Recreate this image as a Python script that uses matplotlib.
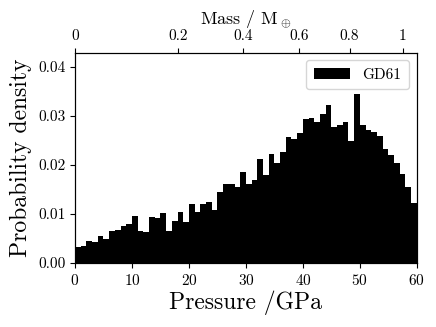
import matplotlib
matplotlib.use('Agg')
import matplotlib.pyplot as plt
import numpy as np

plt.rcParams['font.family'] = 'serif'
plt.rcParams['font.serif'] = ['cmr10']
plt.rcParams['mathtext.fontset'] = 'cm'
plt.rcParams['axes.unicode_minus'] = False
plt.rcParams['axes.formatter.use_mathtext'] = True

# histogram of pressure, 1 GPa bins from 0 to 60 (probability density)
bin_edges = np.arange(0, 61, 1)
density = [0.0033, 0.0035, 0.0044, 0.0042, 0.0054, 0.0048, 0.0066, 0.0068, 0.0076, 0.0080,
           0.0096, 0.0065, 0.0063, 0.0094, 0.0092, 0.0101, 0.0066, 0.0086, 0.0103, 0.0084,
           0.0121, 0.0104, 0.0121, 0.0124, 0.0107, 0.0144, 0.0162, 0.0161, 0.0155, 0.0185,
           0.0161, 0.0170, 0.0211, 0.0180, 0.0223, 0.0203, 0.0227, 0.0256, 0.0253, 0.0266,
           0.0293, 0.0295, 0.0287, 0.0304, 0.0323, 0.0278, 0.0281, 0.0287, 0.0248, 0.0344,
           0.0282, 0.0271, 0.0267, 0.0259, 0.0233, 0.0220, 0.0203, 0.0182, 0.0155, 0.0122]

# mass scale on top axis, placed at the matching pressure
mass_tick_pressure = [0, 18.1, 29.5, 39.3, 48.2, 57.5]
mass_tick_labels = ['0', '0.2', '0.4', '0.6', '0.8', '1']

fig = plt.figure(figsize=(4.36, 3.27), dpi=100)
ax = fig.add_axes([0.172, 0.196, 0.784, 0.643])
ax.stairs(density, bin_edges, fill=True, color='k', label='GD61')
ax.set_xlim(0, 60)
ax.set_ylim(0, 0.0429)
ax.set_yticks([0, 0.01, 0.02, 0.03, 0.04])
ax.set_yticklabels(['0.00', '0.01', '0.02', '0.03', '0.04'])
ax.tick_params(labelsize=11)
ax.set_xlabel('Pressure /GPa', fontsize=17, labelpad=2)
ax.set_ylabel('Probability density', fontsize=17, labelpad=4)
ax.legend(loc='upper right', fontsize=11, handlelength=2.4, borderpad=0.5)

ax2 = ax.twiny()
ax2.set_xlim(ax.get_xlim())
ax2.set_xticks(mass_tick_pressure)
ax2.set_xticklabels(mass_tick_labels)
ax2.tick_params(labelsize=11)
ax2.set_xlabel(r'Mass / $\mathrm{M}_\oplus$', fontsize=13, labelpad=4)

fig.savefig('out.png', dpi=100)
